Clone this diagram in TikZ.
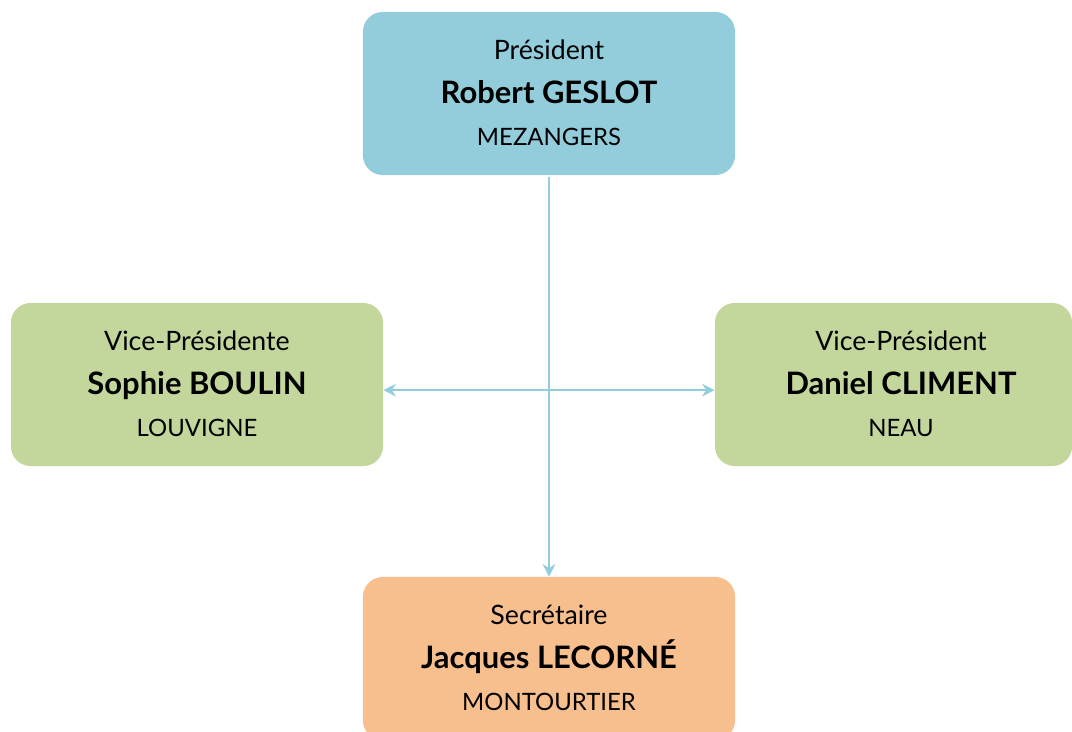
\documentclass[tikz,border=0pt]{standalone}
\usepackage{fontspec}
\setmainfont{Lato}
\usetikzlibrary{arrows.meta}
\definecolor{bleu}{HTML}{93CDDC}
\definecolor{vert}{HTML}{C3D69B}
\definecolor{orange}{HTML}{F8BF8E}
\tikzset{
  poste/.style={rounded corners=14pt,inner sep=0pt,minimum height=4.075cm},
  titre/.style={anchor=base,font=\fontsize{19}{22}\selectfont},
  nom/.style={anchor=base,font=\fontsize{22}{26}\selectfont\bfseries},
  ville/.style={anchor=base,font=\fontsize{17}{20}\selectfont},
  lien/.style={bleu,line width=1.4pt}
}
\begin{document}
\begin{tikzpicture}[x=0.025cm,y=-0.025cm]
  \useasboundingbox (0,0) rectangle (1072,731);
  \begin{scope}
  \clip (0,0) rectangle (1072,731);
  % boxes
  \node[poste,fill=bleu,minimum width=9.3cm] (pres) at (549,93.5) {};
  \node[poste,fill=vert,minimum width=9.3cm] (vpg) at (197,384.5) {};
  \node[poste,fill=vert,minimum width=8.925cm] (vpd) at (893.5,384.5) {};
  \node[poste,fill=orange,minimum width=9.3cm] (secr) at (549,658.5) {};
  \end{scope}
  % texts
  \node[titre] (pres-t) at (549,59) {Président};
  \node[nom]   (pres-n) at (549,103) {Robert GESLOT};
  \node[ville] (pres-v) at (549,145) {MEZANGERS};
  \node[titre] (vpg-t) at (197,350) {Vice-Présidente};
  \node[nom]   (vpg-n) at (197,394) {Sophie BOULIN};
  \node[ville] (vpg-v) at (197,436) {LOUVIGNE};
  \node[titre] (vpd-t) at (901,350) {Vice-Président};
  \node[nom]   (vpd-n) at (901,394) {Daniel CLIMENT};
  \node[ville] (vpd-v) at (901,436) {NEAU};
  \node[titre] (secr-t) at (549,624) {Secrétaire};
  \node[nom]   (secr-n) at (549,668) {Jacques LECORNÉ};
  \node[ville] (secr-v) at (549,710) {MONTOURTIER};
  % links
  \draw[lien,-{Stealth[length=9pt,width=9pt,inset=3pt]}] ([yshift=-1.5pt]pres.south) -- (secr.north);
  \draw[lien,{Stealth[length=9pt,width=9pt,inset=3pt]}-{Stealth[length=9pt,width=9pt,inset=3pt]}]
    ([yshift=-4pt]vpg.east) -- ([yshift=-4pt]vpd.west);
\end{tikzpicture}
\end{document}
